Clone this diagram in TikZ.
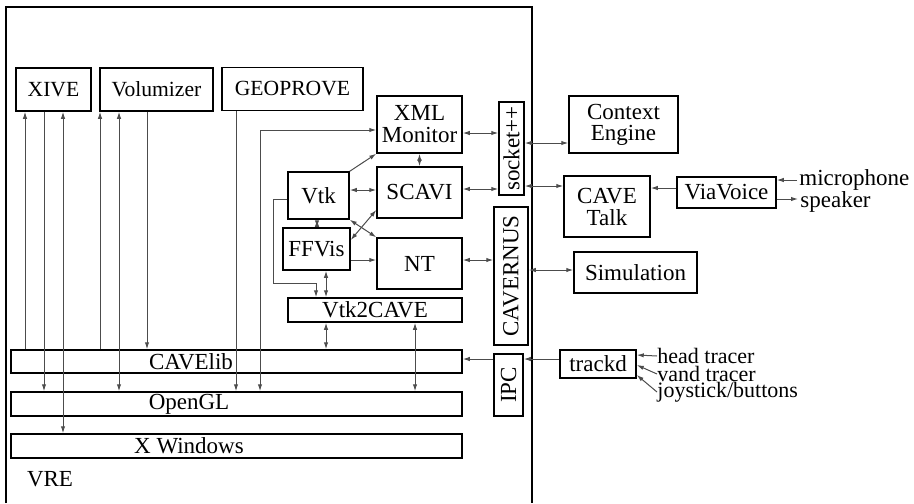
\documentclass[tikz,border=0pt]{standalone}
\usepackage{fontspec}
\setmainfont{Liberation Serif}
\usepackage{graphicx}
\usepackage{tikz}
\usetikzlibrary{positioning, arrows.meta}
\tikzset{>={Latex[length=3.5pt,width=2.2pt]}}
\tikzset{
    module/.style = {rectangle, draw, line width=0.75pt, inner sep=0pt, align=center,
                        font=\fontsize{11.5}{11}\selectfont},
    toplayer/.style = {module, minimum height=21.5pt, font=\fontsize{10.8}{11}\selectfont},
    layer/.style = {module, minimum width=225.5pt, minimum height=11.5pt},
    label/.style = {inner sep=1pt, anchor=west, font=\fontsize{11.5}{11}\selectfont},
    tracer/.style = {label, inner sep=0pt, font=\fontsize{11}{11}\selectfont},
    link/.style = {draw=black!70, line width=0.5pt}
}

\begin{document}
\begin{tikzpicture}[x=0.5pt, y=-0.5pt]
		\useasboundingbox (0,0) rectangle (914,503);
		% VRE frame
		\draw [line width=0.75pt] (6,503) |- (532,7) -- (532,503);
		\node (vre) [label, anchor=center] at (50,479) {VRE};
		% applications
		\node (xive) [toplayer, minimum width=37.5pt] at (53.5,89.5) {XIVE};
		\node (volum) [toplayer, minimum width=56.5pt] at (156.5,89.5) {Volumizer};
		\node (geo) [toplayer, minimum width=70.5pt] at (292.5,89) {GEOPROVE};
		\node (xml) [module, minimum width=42.5pt, minimum height=28.5pt] at (419.5,124.5) {XML\\Monitor};
		\node (scavi) [module, minimum width=42.5pt, minimum height=25.5pt] at (419.5,192.5) {SCAVI};
		\node (vtk) [module, minimum width=30.5pt, minimum height=23.5pt] at (318.5,195.5) {Vtk};
		\node (ffvis) [module, minimum width=33.5pt, minimum height=21pt] at (316.5,249) {FFVis};
		\node (nt) [module, minimum width=42.5pt, minimum height=25.5pt] at (419.5,263.5) {NT};
		\node (vtkcave) [module, minimum width=87pt, minimum height=12pt] at (375,310) {Vtk2CAVE};
		% libraries
		\node (cavelib) [layer] at (236.5,361.5) {};
		\node (opengl) [layer, minimum height=12pt] at (236.5,404) {};
		\node (xwin) [layer, minimum height=12pt] at (236.5,446) {};
		\node [label, anchor=center] at (191,361.5) {CAVElib};
		\node [label, anchor=center] at (189,404) {OpenGL};
		\node [label, anchor=center] at (189,446) {X Windows};
		% communication
		\node (sock) [module, minimum width=12.5pt, minimum height=46.5pt] at (511.5,148.5) {\rotatebox{90}{socket++}};
		\node (cavernus) [module, minimum width=17pt, minimum height=69pt] at (511,276) {\rotatebox{90}{CAVERNUS}};
		\node (ipc) [module, minimum width=14.5pt, minimum height=31pt] at (508.5,385) {\rotatebox{90}{IPC}};
		% outside
		\node (context) [module, minimum width=54.5pt, minimum height=28.5pt,
			font=\fontsize{11.5}{10.5}\selectfont] at (623.5,124.5) {Context\\Engine};
		\node (talk) [module, minimum width=43pt, minimum height=30.5pt] at (607,206.5) {CAVE\\Talk};
		\node (via) [module, minimum width=49.5pt, minimum height=15.5pt] at (726.5,192.5) {ViaVoice};
		\node (sim) [module, minimum width=61.5pt, minimum height=20.5pt] at (635.5,272.5) {Simulation};
		\node (trackd) [module, minimum width=38pt, minimum height=14pt] at (598,364) {trackd};
		\node (mic) [label] at (797,180) {microphone};
		\node (spk) [label] at (798,202) {speaker};
		\node (head) [tracer] at (657,356) {head tracer};
		\node (vand) [tracer] at (657,374) {vand tracer};
		\node (joy) [tracer] at (657,392) {joystick/buttons};
		% vertical links
		\draw [link,->] (cavelib.north -| 25,0) -- (xive.south -| 25,0);
		\draw [link,->] (xive.south -| 44,0) -- (opengl.north -| 44,0);
		\draw [link,<->] (xive.south -| 63,0) -- (xwin.north -| 63,0);
		\draw [link,->] (cavelib.north -| 100,0) -- (volum.south -| 100,0);
		\draw [link,<->] (volum.south -| 119,0) -- (opengl.north -| 119,0);
		\draw [link,->] (volum.south -| 147,0) -- (cavelib.north -| 147,0);
		\draw [link,->] (geo.south -| 236,0) -- (opengl.north -| 236,0);
		\draw [link,<->] (xml.west |- 0,130) -| (opengl.north -| 260,0);
		\draw [link,<->] (vtkcave.south -| 326,0) -- (cavelib.north -| 326,0);
		\draw [link,<->] (vtkcave.south -| 415,0) -- (opengl.north -| 415,0);
		\coordinate (vtkbend) at (273,283);
		\draw [link,->] (vtk.west |- 0,199) -| (vtkbend) -| (vtkcave.north -| 316,0);
		\draw [link,<->] (vtk.south -| 317,0) -- (ffvis.north -| 317,0);
		\draw [link,<->] (ffvis.south -| 326,0) -- (vtkcave.north -| 326,0);
		% links between modules
		\draw [link,<->] (vtk.east |- 0,190) -- (scavi.west |- 0,190);
		\draw [link,->] (vtk.north east) -- (xml.south west);
		\draw [link,<->] (vtk.south east) -- (nt.north west);
		\draw [link,<->] (ffvis.east |- 0,240) -- (scavi.west |- 0,210);
		\draw [link,->] (ffvis.east |- 0,260) -- (nt.west |- 0,260);
		\draw [link,<->] (xml.south) -- (scavi.north);
		\draw [link,<->] (xml.east |- 0,133) -- (sock.west |- 0,133);
		\draw [link,<->] (scavi.east |- 0,189) -- (sock.west |- 0,189);
		\draw [link,<->] (nt.east |- 0,260) -- (cavernus.west |- 0,260);
		\draw [link,<->] (sock.east |- 0,143) -- (context.west |- 0,143);
		\draw [link,<->] (sock.east |- 0,186) -- (talk.west |- 0,186);
		\draw [link,->] (via.west |- 0,188) -- (talk.east |- 0,188);
		\draw [link,->] (mic.west) -- (via.east |- mic.west);
		\draw [link,->] (via.east |- 0,199) -- (spk.west |- 0,199);
		\draw [link,<->] (cavernus.east |- 0,270) -- (sim.west |- 0,270);
		\draw [link,->] (trackd.west |- 0,359) -- (ipc.east |- 0,359);
		\draw [link,->] (ipc.west |- 0,359) -- (cavelib.east |- 0,359);
		\draw [link,->] (head.west) -- (trackd.east |- 0,355);
		\draw [link,->] (vand.west) -- (trackd.east |- 0,365);
		\draw [link,->] (joy.west) -- (trackd.east |- 0,375);
	\end{tikzpicture}
\end{document}
